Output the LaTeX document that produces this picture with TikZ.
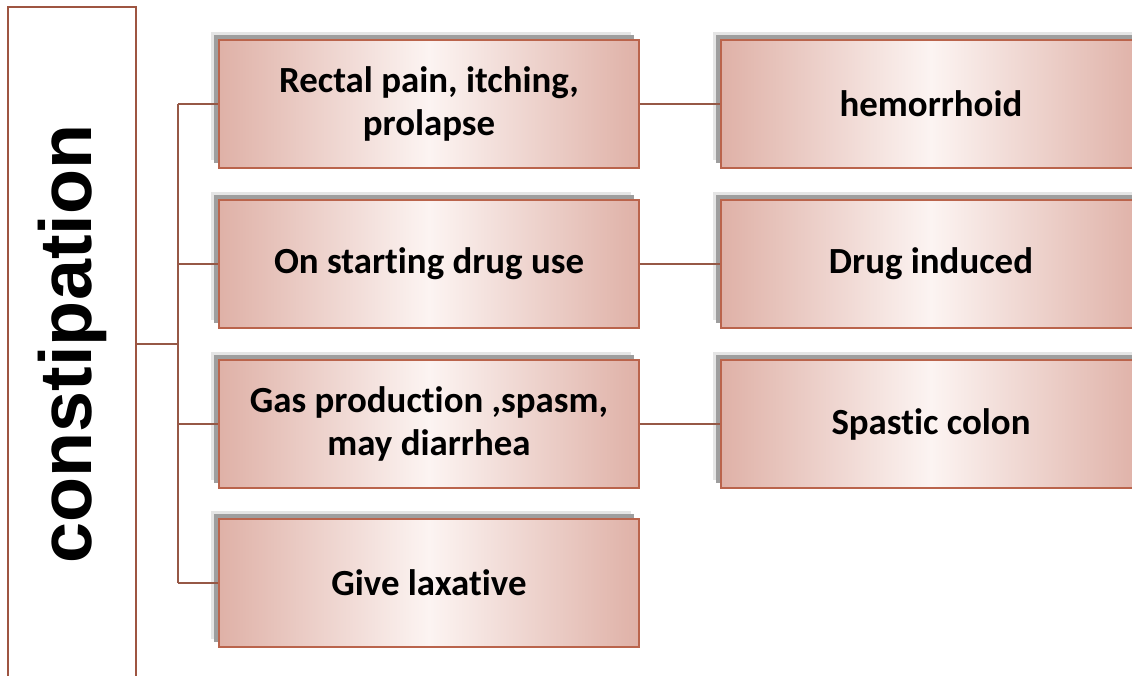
\documentclass[tikz,border=0pt]{standalone}
\usepackage{fontspec}
\setmainfont{Carlito}[Ligatures=NoCommon]
\newfontfamily\titlefont{Liberation Sans}
\usetikzlibrary{positioning, shadows}

\definecolor{boxedge}{RGB}{186,100,76}
\definecolor{linkbrown}{RGB}{150,88,70}
\definecolor{pinkside}{RGB}{223,177,167}
\definecolor{pinkmid}{RGB}{252,244,242}

\begin{document}
\begin{tikzpicture}[
    x=1bp, y=-1bp,
    cause/.style={rectangle, draw=boxedge, line width=1.8bp, minimum width=420bp,
                  minimum height=128bp, align=center,
                  left color=pinkside, right color=pinkside, middle color=pinkmid,
                  drop shadow={shadow xshift=-8bp, shadow yshift=8bp, fill=black!10, opacity=1},
                  drop shadow={shadow xshift=-5bp, shadow yshift=5bp, fill=black!38, opacity=1},
                  font=\fontsize{37}{43}\selectfont\bfseries},
    topic/.style={rectangle, draw=boxedge!85!black, line width=1.8bp, rotate=90,
                  minimum width=674bp, minimum height=128bp,
                  font=\titlefont\fontsize{74}{80}\selectfont\bfseries},
    link/.style={draw=linkbrown, line width=2bp}
]
    \useasboundingbox (0,0) rectangle (1132,676);

    % Main topic, open at the bottom
    \node[topic] (root) at (72,344) {constipation};

    % Symptoms
    \node[cause] (pain) at (429,104) {Rectal pain, itching,\\prolapse};
    \node[cause] (drug) at (429,264) {On starting drug use};
    \node[cause] (gas)  at (429,424) {Gas production ,spasm,\\may diarrhea};
    \node[cause] (lax)  at (429,583) {Give laxative};

    % Diagnoses
    \node[cause] (hemo)    at (931,104) {hemorrhoid};
    \node[cause] (induced) at (931,264) {Drug induced};
    \node[cause] (spastic) at (931,424) {Spastic colon};

    % Fork from the topic
    \coordinate (fork) at (178,344);
    \draw[link] (root.south) -- (fork);
    \draw[link] (fork |- pain.west) -- (fork |- lax.west);
    \foreach \n in {pain, drug, gas, lax}
        \draw[link] (fork |- \n.west) -- (\n.west);

    % Symptom to diagnosis
    \draw[link] (pain) -- (hemo);
    \draw[link] (drug) -- (induced);
    \draw[link] (gas) -- (spastic);
\end{tikzpicture}
\end{document}
